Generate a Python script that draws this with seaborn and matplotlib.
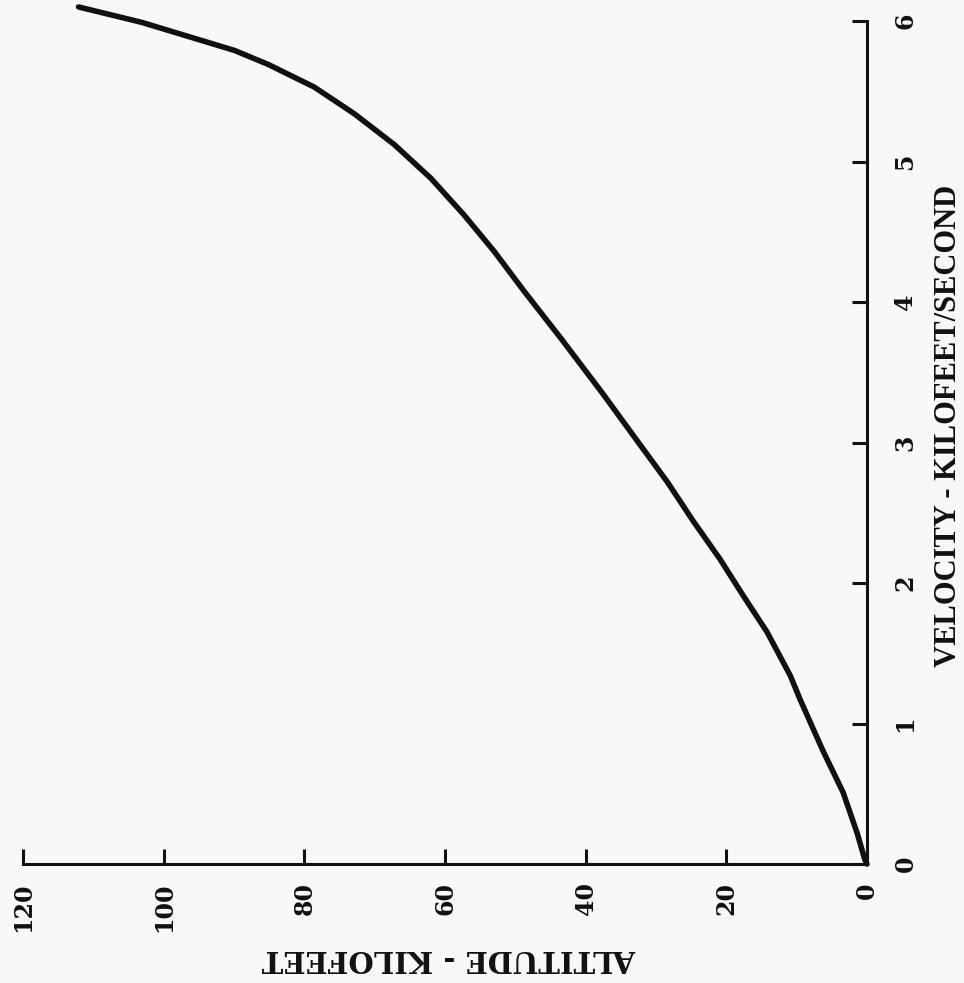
import matplotlib
matplotlib.use("Agg")
import matplotlib.pyplot as plt
import seaborn as sns
import pandas as pd

# Data (altitude in kilofeet, velocity in kilofeet/second)
altitude = [0, 0.3, 1.4, 3.4, 6.3, 9.5, 10.9, 14.2, 17.6, 20.9, 24.7, 28.4, 32.5,
            37.6, 43.5, 48.8, 53.0, 57.3, 62.0, 67.2, 72.9, 78.6, 85.1, 89.9,
            96.5, 103.1, 112.1]
velocity = [0, 0.03, 0.22, 0.51, 0.81, 1.17, 1.34, 1.65, 1.91, 2.17, 2.44, 2.72, 3.0,
            3.35, 3.74, 4.08, 4.36, 4.62, 4.88, 5.12, 5.34, 5.53, 5.69, 5.79,
            5.89, 5.99, 6.10]
alt_ticks = [0, 20, 40, 60, 80, 100, 120]
vel_ticks = [0, 1, 2, 3, 4, 5, 6]
alt_label = "ALTITUDE - KILOFEET"
vel_label = "VELOCITY - KILOFEET/SECOND"

df = pd.DataFrame({"altitude": altitude, "velocity": velocity})

sns.set_style("white")
plt.rcParams["font.family"] = ["DejaVu Serif", "DejaVu Sans"]

bg = "#f8f8f6"
ink = "#111111"

fig = plt.figure(figsize=(9.64, 9.83), dpi=100, facecolor=bg)
ax = fig.add_axes([23 / 964, 119 / 983, 844 / 964, 843 / 983])
ax.set_facecolor(bg)

sns.lineplot(data=df, x="altitude", y="velocity", sort=False, ax=ax,
             color=ink, linewidth=4.0, clip_on=False, solid_capstyle="round",
             solid_joinstyle="round")

ax.set_xlim(120, 0)
ax.set_ylim(0, 6)

for s in ["left", "top"]:
    ax.spines[s].set_visible(False)
for s in ["right", "bottom"]:
    ax.spines[s].set_visible(True)
    ax.spines[s].set_linewidth(2.2)
    ax.spines[s].set_color(ink)
    ax.spines[s].set_capstyle("projecting")

ax.yaxis.tick_right()
ax.yaxis.set_label_position("right")

ax.set_xticks(alt_ticks)
ax.set_xticklabels([str(t) for t in alt_ticks], rotation=90, ha="center", va="top",
                   fontsize=17, fontweight="bold", color=ink)
ax.set_yticks(vel_ticks)
ax.set_yticklabels([str(t) for t in vel_ticks], rotation=90, ha="left", va="center",
                   fontsize=17, fontweight="bold", color=ink)

ax.tick_params(axis="x", direction="in", length=10.8, width=2.2, pad=13, colors=ink,
               bottom=True, top=False)
ax.tick_params(axis="y", direction="in", length=10.8, width=2.2, pad=19, colors=ink,
               right=True, left=False)

ax.set_xlabel(alt_label, rotation=180, fontsize=21, fontweight="bold", color=ink,
              labelpad=9)
ax.set_ylabel(vel_label, rotation=90, fontsize=22, fontweight="bold", color=ink,
              labelpad=12, family=["Liberation Serif", "DejaVu Serif"])
ax.xaxis.label.set_x(0.505)
ax.yaxis.label.set_y(0.52)

fig.savefig("out.png", dpi=100, facecolor=bg)
